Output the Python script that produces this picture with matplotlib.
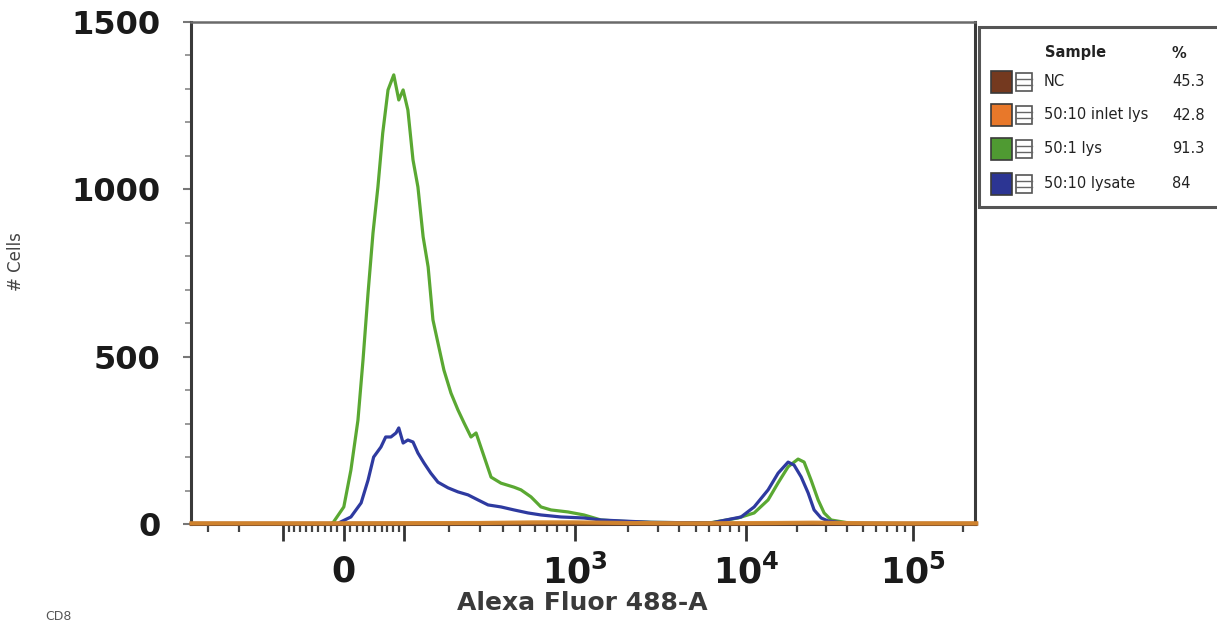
import numpy as np
import matplotlib
matplotlib.use("Agg")
import matplotlib.pyplot as plt
from matplotlib.patches import Rectangle
from matplotlib.lines import Line2D

# ---------------- data ----------------
samples = ["NC", "50:10 inlet lys", "50:1 lys", "50:10 lysate"]
percents = ["45.3", "42.8", "91.3", "84"]
colors_swatch = ["#74391f", "#e8782a", "#4f9a32", "#2c3593"]
colors_line = ["#7a4526", "#d9892e", "#5aa832", "#2e3aa0"]

green_x = [-368, -20, -16, 0, 11, 22, 30, 38, 46, 54, 62, 71, 81, 90, 98, 107, 117,
           127, 138, 149, 160, 172, 187, 206, 226, 245, 268, 286, 312, 346, 392,
           462, 504, 572, 649, 737, 917, 1128, 1408, 1835, 2738, 4106, 6180, 8947,
           11150, 13510, 15510, 17800, 20420, 22190, 24440, 26920, 29250, 32220,
           42400, 239800]
green_y = [0, 0, 6, 51, 161, 310, 490, 690, 870, 1007, 1168, 1297, 1342, 1267, 1297,
           1237, 1088, 1007, 858, 768, 610, 541, 460, 391, 341, 302, 260, 272, 212,
           140, 122, 110, 102, 81, 51, 42, 36, 27, 12, 8, 5, 4, 4, 18, 33, 72, 123,
           171, 194, 185, 131, 72, 33, 12, 2, 0]

blue_x = [-368, -10, -5, 11, 27, 38, 47, 59, 67, 76, 85, 90, 98, 107, 117, 127, 140,
          155, 172, 198, 226, 258, 293, 333, 392, 462, 551, 649, 838, 1128, 1408,
          2738, 6180, 9320, 11150, 13510, 15510, 17800, 19320, 21290, 23450, 25470,
          28060, 30920, 40000, 239800]
blue_y = [0, 0, 6, 21, 63, 131, 200, 230, 260, 260, 272, 287, 242, 251, 245, 212, 182,
          152, 125, 108, 96, 87, 72, 57, 51, 42, 33, 27, 21, 18, 12, 5, 3, 21, 51,
          102, 152, 185, 176, 141, 93, 42, 18, 9, 2, 0]

nc_x = [-368, 0, 500, 1000, 3000, 10000, 20000, 50000, 239800]
nc_y = [1, 1, 2, 2, 1, 1, 2, 1, 1]

inlet_x = [-368, 0, 300, 600, 1000, 2000, 5000, 15000, 25000, 60000, 239800]
inlet_y = [2, 2, 3, 5, 5, 3, 2, 3, 4, 2, 2]

ytick_vals = [0, 500, 1000, 1500]
xtick_vals = [-100, 0, 100, 1e3, 1e4, 1e5]
xtick_labels = ["", "0", "", r"$\mathbf{10^{3}}$", r"$\mathbf{10^{4}}$", r"$\mathbf{10^{5}}$"]
xminor_vals = ([-300, -200] + [-v for v in range(10, 100, 10)] + list(range(10, 100, 10))
               + list(range(200, 1000, 100)) + list(range(2000, 10000, 1000))
               + list(range(20000, 100000, 10000)) + [200000])

# ---------------- biexponential (logicle) axis ----------------
T_TOP, M_DEC, W_LIN = 236000.0, 4.72, 0.92


def _solve_p(w):
    lo, hi = 1.0001, 10.0
    for _ in range(200):
        mid = 0.5 * (lo + hi)
        if 2 * mid * np.log(mid) / (mid + 1) < w:
            lo = mid
        else:
            hi = mid
    return 0.5 * (lo + hi)


P_LOG = _solve_p(W_LIN)


def logicle_inverse(y):
    y = np.asarray(y, dtype=float)
    d = np.abs(y - W_LIN)
    s = T_TOP * 10 ** (-(M_DEC - W_LIN)) * (10 ** d - P_LOG ** 2 * 10 ** (-d / P_LOG) + P_LOG ** 2 - 1)
    return np.where(y >= W_LIN, s, -s)


_grid = np.linspace(-2, M_DEC + 2, 40001)
_vals = logicle_inverse(_grid)


def logicle_forward(x):
    return np.interp(np.asarray(x, dtype=float), _vals, _grid)


# ---------------- figure ----------------
plt.rcParams["mathtext.fontset"] = "dejavusans"
W_PX, H_PX = 1217, 629
fig = plt.figure(figsize=(W_PX / 100, H_PX / 100), dpi=100)


def fx(px):
    return px / W_PX


def fy(py):
    return 1 - py / H_PX


ax = fig.add_axes([fx(191), fy(524), fx(975) - fx(191), fy(22) - fy(524)])
ax.set_xscale("function", functions=(logicle_forward, logicle_inverse))
ax.set_xlim(float(logicle_inverse(0.0)), float(logicle_inverse(M_DEC)))
ax.set_ylim(0, 1500)

ax.plot(green_x, green_y, color=colors_line[2], lw=2.3, zorder=3)
ax.plot(blue_x, blue_y, color=colors_line[3], lw=2.3, zorder=3.1)
ax.plot(nc_x, nc_y, color=colors_line[0], lw=3.0, zorder=3.2, clip_on=False)
ax.plot(inlet_x, inlet_y, color=colors_line[1], lw=3.0, zorder=3.3, clip_on=False, alpha=0.9)

for s in ax.spines.values():
    s.set_color("#3a3a3a")
    s.set_linewidth(2.2)
ax.spines["top"].set_color("#6a6a6a")
ax.spines["top"].set_linewidth(1.8)

ax.set_xticks(xtick_vals)
ax.set_xticklabels(xtick_labels)
ax.set_xticks(xminor_vals, minor=True)
ax.tick_params(axis="x", which="major", length=12, width=2, color="#333333",
               labelsize=25, pad=10, labelcolor="#1a1a1a")
ax.tick_params(axis="x", which="minor", length=6, width=1.6, color="#444444")

ax.set_yticks(ytick_vals)
ax.set_yticklabels([str(v) for v in ytick_vals], fontweight="bold")
ax.set_yticks(list(range(100, 1500, 100)), minor=True)
ax.tick_params(axis="y", which="major", length=6, width=1.5, color="#777777",
               labelsize=23, pad=16, labelcolor="#1a1a1a")
ax.tick_params(axis="y", which="minor", length=4, width=1.2, color="#888888")
for lab in ax.get_xticklabels():
    lab.set_fontweight("bold")

fig.text(fx(582), fy(603), "Alexa Fluor 488-A", ha="center", va="center",
         fontsize=18, fontweight="bold", color="#3a3a3a")
fig.text(fx(16), fy(262), "# Cells", ha="center", va="center", rotation=90,
         fontsize=12, color="#444444")
fig.text(fx(58), fy(617), "CD8", ha="center", va="center", fontsize=9, color="#555555")

# ---------------- legend panel ----------------
fig.patches.append(Rectangle((fx(979), fy(207)), fx(1240) - fx(979), fy(27) - fy(207),
                             transform=fig.transFigure, facecolor="white",
                             edgecolor="#555555", lw=2.2, zorder=5))
fig.text(fx(1045), fy(53), "Sample", ha="left", va="center", fontsize=10.5,
         fontweight="bold", color="#222222", zorder=6)
fig.text(fx(1172), fy(53), "%", ha="left", va="center", fontsize=10.5,
         fontweight="bold", color="#222222", zorder=6)
row_py = [82, 115, 149, 184]
for name, pct, col, py in zip(samples, percents, colors_swatch, row_py):
    fig.patches.append(Rectangle((fx(991), fy(py + 11)), fx(1012) - fx(991), fy(py - 11) - fy(py + 11),
                                 transform=fig.transFigure, facecolor=col,
                                 edgecolor="#3a3a3a", lw=1.2, zorder=6))
    fig.patches.append(Rectangle((fx(1016), fy(py + 9)), fx(1032) - fx(1016), fy(py - 9) - fy(py + 9),
                                 transform=fig.transFigure, facecolor="white",
                                 edgecolor="#555555", lw=1.2, zorder=6))
    for dy in (-3, 3):
        fig.lines.append(Line2D([fx(1016), fx(1032)], [fy(py + dy), fy(py + dy)],
                                transform=fig.transFigure, color="#666666", lw=1.0, zorder=7))
    fig.text(fx(1044), fy(py), name, ha="left", va="center", fontsize=10.5,
             color="#222222", zorder=6)
    fig.text(fx(1172), fy(py), pct, ha="left", va="center", fontsize=10.5,
             color="#222222", zorder=6)

fig.savefig("out.png", dpi=100)
